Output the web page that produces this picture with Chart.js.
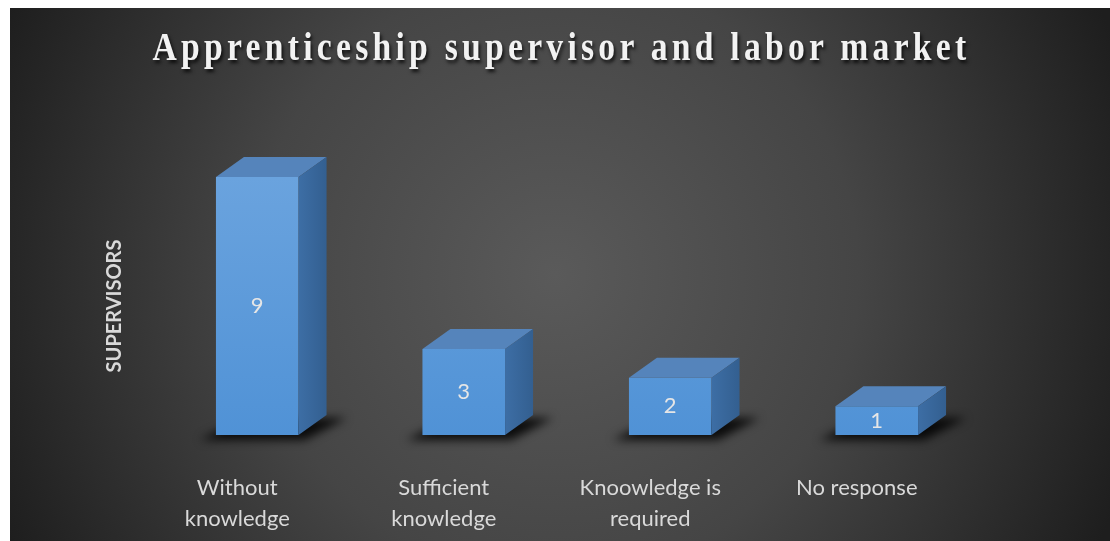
<!DOCTYPE html>
<html>
<head>
<meta charset="utf-8">
<script src="https://cdn.jsdelivr.net/npm/chart.js@4.4.0/dist/chart.umd.min.js"></script>
<style>
    html, body { margin: 0; padding: 0; background: #fff; }
    body { width: 1110px; height: 541px; position: relative; overflow: hidden; }
    #caption {
        position: absolute; left: 66px; top: -22px;
        font: 21px/21px "Liberation Serif", "Times New Roman", serif;
        color: #111; white-space: nowrap;
    }
    #wrap { position: absolute; left: 10px; top: 8px; width: 1100px; height: 533px; }
    #title {
        position: absolute; left: 3px; right: 0; top: 18px;
        text-align: center; white-space: nowrap;
        font: bold 41px/41px "Liberation Serif", "Times New Roman", serif;
        color: #f2f2f2; letter-spacing: 5.2px;
        transform: scaleX(0.82); transform-origin: center;
        text-shadow: 2px 3px 4px rgba(0, 0, 0, 0.75);
        pointer-events: none; z-index: 2;
    }
</style>
</head>
<body>
<div id="caption">Figure 6: Supervisor knowledge of the apprenticeship and perception of the labor market (2021)</div>
<div id="wrap">
    <canvas id="chart"></canvas>
    <div id="title"></div>
</div>
<script>
const chartTitle = "Apprenticeship supervisor and labor market";
const yAxisTitle = "SUPERVISORS";
const categories = [
    ["Without", "knowledge"],
    ["Sufficient", "knowledge"],
    ["Knoowledge is", "required"],
    ["No response"],
];
const supervisors = [9, 3, 2, 1];

document.getElementById("title").textContent = chartTitle;

// 3d box depth
const DX = 28;
const DY = -20;

// dark radial background
const backdrop = {
    id: "backdrop",
    beforeDraw(chart) {
        const { ctx, width, height } = chart;
        const cx = width / 2 - 5, cy = height / 2;
        const g = ctx.createRadialGradient(cx, cy, 0, cx, cy, Math.hypot(cx, cy));
        g.addColorStop(0, "#5a5a5a");
        g.addColorStop(0.5, "#454545");
        g.addColorStop(1, "#1e1e1e");
        ctx.save();
        ctx.fillStyle = g;
        ctx.fillRect(0, 0, width, height);
        ctx.restore();
    },
};

// shadow under boxes, top + side faces and value labels
const boxes = {
    id: "boxes",
    beforeDatasetsDraw(chart) {
        const ctx = chart.ctx;
        chart.getDatasetMeta(0).data.forEach((bar) => {
            const l = bar.x - bar.width / 2, r = bar.x + bar.width / 2, b = bar.base;
            ctx.save();
            ctx.filter = "blur(5px)";
            ctx.fillStyle = "rgba(0,0,0,0.85)";
            ctx.beginPath();
            ctx.moveTo(l - 16, b + 5);
            ctx.lineTo(r + 6, b + 5);
            ctx.lineTo(r + DX + 20, b + DY + 3);
            ctx.lineTo(l + DX, b + DY + 3);
            ctx.closePath();
            ctx.fill();
            ctx.restore();
        });
    },
    afterDatasetsDraw(chart) {
        const ctx = chart.ctx;
        chart.getDatasetMeta(0).data.forEach((bar, i) => {
            const l = bar.x - bar.width / 2, r = bar.x + bar.width / 2;
            const t = bar.y, b = bar.base;
            ctx.save();
            // top face
            ctx.fillStyle = "#5584bb";
            ctx.beginPath();
            ctx.moveTo(l, t);
            ctx.lineTo(r, t);
            ctx.lineTo(r + DX, t + DY);
            ctx.lineTo(l + DX, t + DY);
            ctx.closePath();
            ctx.fill();
            // side face
            const sg = ctx.createLinearGradient(r, 0, r + DX, 0);
            sg.addColorStop(0, "#3d6ea5");
            sg.addColorStop(1, "#335f90");
            ctx.fillStyle = sg;
            ctx.beginPath();
            ctx.moveTo(r, t);
            ctx.lineTo(r + DX, t + DY);
            ctx.lineTo(r + DX, b + DY);
            ctx.lineTo(r, b);
            ctx.closePath();
            ctx.fill();
            // value
            ctx.fillStyle = "#e6e6e6";
            ctx.font = "22px Lato";
            ctx.textAlign = "center";
            ctx.textBaseline = "middle";
            ctx.fillText(String(supervisors[i]), bar.x, (t + b) / 2);
            ctx.restore();
        });
    },
};

const frontColor = (context) => {
    const { ctx, chartArea } = context.chart;
    if (!chartArea) return "#5b9bd5";
    const g = ctx.createLinearGradient(0, chartArea.top, 0, chartArea.bottom);
    g.addColorStop(0, "#6aa3de");
    g.addColorStop(1, "#5092d6");
    return g;
};

new Chart(document.getElementById("chart"), {
    type: "bar",
    data: {
        labels: categories,
        datasets: [
            {
                label: yAxisTitle,
                data: supervisors,
                backgroundColor: frontColor,
                borderWidth: 0,
                barPercentage: 0.4,
                categoryPercentage: 1,
                clip: false,
            },
        ],
    },
    options: {
        responsive: true,
        maintainAspectRatio: false,
        animation: false,
        layout: { padding: { top: 169, right: 130, left: 0, bottom: 0 } },
        plugins: {
            legend: { display: false },
            tooltip: { enabled: false },
        },
        scales: {
            x: {
                grid: { display: false },
                border: { display: false },
                ticks: {
                    color: "#d9d9d9",
                    font: { family: "Lato", size: 22, lineHeight: 1.4 },
                    padding: 30,
                    labelOffset: -20,
                    maxRotation: 0,
                    autoSkip: false,
                },
                afterFit(scale) {
                    scale.height = 106;
                },
            },
            y: {
                min: 0,
                max: 9,
                grid: { display: false },
                border: { display: false },
                ticks: { display: false },
                title: {
                    display: true,
                    text: yAxisTitle,
                    color: "#d9d9d9",
                    font: { family: "Lato", size: 20, weight: "bold" },
                    padding: { top: 93, bottom: 0 },
                },
                afterFit(scale) {
                    scale.width = 144;
                },
            },
        },
    },
    plugins: [backdrop, boxes],
});
</script>
</body>
</html>
